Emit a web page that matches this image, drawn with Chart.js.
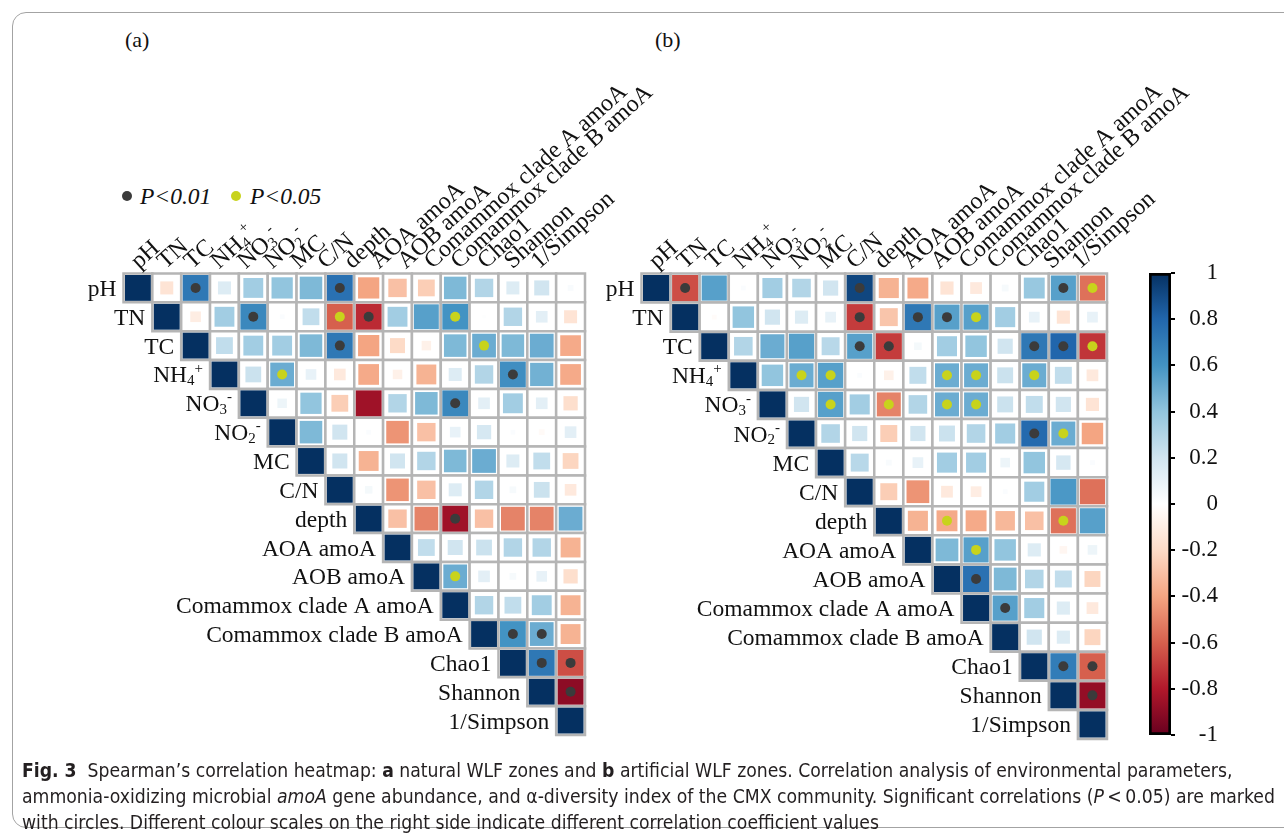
<!DOCTYPE html>
<html>
<head>
<meta charset="utf-8">
<script src="https://cdn.jsdelivr.net/npm/chart.js@4.4.0/dist/chart.umd.min.js"></script>
<style>
    body { margin: 0; background: #fff; width: 1284px; height: 833px; overflow: hidden; position: relative; font-family: "Liberation Serif", serif; color: #111; }
    canvas { position: absolute; left: 0; top: 0; }
    .frame { position: absolute; left: 12px; top: 12px; width: 1300px; height: 814px; border: 1px solid #a3a3a3; border-radius: 14px; }
    .panel { position: absolute; top: 27px; font-size: 22px; }
    .leg { position: absolute; top: 183px; font-size: 23.5px; font-style: italic; line-height: 26px; }
    .dot { position: absolute; width: 10px; height: 10px; border-radius: 50%; }
    .cap { position: absolute; left: 22px; white-space: nowrap; font-family: "Liberation Sans Narrow", "DejaVu Sans Condensed", "Open Sans", sans-serif; font-size: 20px; line-height: 26px; color: #231f20; transform-origin: 0 0; }
</style>
</head>
<body>
<div class="frame"></div>
<div class="panel" style="left:125px">(a)</div>
<div class="panel" style="left:655px">(b)</div>
<div class="dot" style="left:122px;top:191px;background:#3b3b3b"></div>
<div class="leg" style="left:140px">P&lt;0.01</div>
<div class="dot" style="left:231px;top:191px;background:#c8d31c"></div>
<div class="leg" style="left:250px">P&lt;0.05</div>

<canvas id="natural" width="1284" height="833"></canvas>
<canvas id="artificial" width="1284" height="833"></canvas>
<canvas id="cbar" width="1284" height="833"></canvas>

<div class="cap" id="cap1" style="top:757px"><b>Fig. 3</b>&nbsp; Spearman’s correlation heatmap: <b>a</b> natural WLF zones and <b>b</b> artificial WLF zones. Correlation analysis of environmental parameters,</div>
<div class="cap" id="cap2" style="top:783px">ammonia-oxidizing microbial <i>amoA</i> gene abundance, and α-diversity index of the CMX community. Significant correlations (<i>P</i>&thinsp;&lt;&thinsp;0.05) are marked</div>
<div class="cap" id="cap3" style="top:809px">with circles. Different colour scales on the right side indicate different correlation coefficient values</div>

<script>
const variables = ['pH', 'TN', 'TC', 'NH4+', 'NO3-', 'NO2-', 'MC', 'C/N', 'depth',
    'AOA amoA', 'AOB amoA', 'Comammox clade A amoA', 'Comammox clade B amoA',
    'Chao1', 'Shannon', '1/Simpson'];

// upper triangle, row i holds r for columns i+1 .. 15
const rNatural = [
    [-0.15, 0.72, 0.15, 0.35, 0.4, 0.45, 0.75, -0.4, -0.3, -0.25, 0.45, 0.3, 0.15, 0.2, 0.03],
    [-0.1, 0.35, 0.65, 0.02, 0.25, -0.6, -0.75, 0.35, 0.55, 0.6, 0.01, 0.3, 0.12, -0.15],
    [0.25, 0.35, 0.35, 0.45, 0.72, -0.4, -0.2, -0.08, 0.45, 0.5, 0.45, 0.5, -0.38],
    [0.22, 0.5, 0.1, -0.12, -0.38, -0.08, -0.35, 0.15, 0.3, 0.62, 0.48, -0.38],
    [0.08, 0.4, -0.25, -0.85, 0.3, 0.45, 0.65, 0.12, 0.35, 0.12, -0.18],
    [0.45, 0.2, 0.02, -0.45, -0.3, 0.1, 0.18, 0.02, -0.03, 0.12],
    [0.2, -0.35, 0.2, 0.3, 0.45, 0.5, 0.15, 0.25, -0.22],
    [0.05, -0.45, -0.3, 0.15, 0.3, 0.04, 0.22, -0.12],
    [-0.3, -0.5, -0.85, -0.3, -0.5, -0.5, 0.5],
    [0.25, 0.2, 0.22, 0.3, 0.3, -0.35],
    [0.5, 0.12, 0.04, 0.1, -0.18],
    [0.3, 0.25, 0.35, -0.35],
    [0.6, 0.5, -0.35],
    [0.72, -0.65],
    [-0.9],
];
// 2 = P<0.01, 1 = P<0.05
const pNatural = [
    [0, 2, 0, 0, 0, 0, 2, 0, 0, 0, 0, 0, 0, 0, 0],
    [0, 0, 2, 0, 0, 1, 2, 0, 0, 1, 0, 0, 0, 0],
    [0, 0, 0, 0, 2, 0, 0, 0, 0, 1, 0, 0, 0],
    [0, 1, 0, 0, 0, 0, 0, 0, 0, 2, 0, 0],
    [0, 0, 0, 0, 0, 0, 2, 0, 0, 0, 0],
    [0, 0, 0, 0, 0, 0, 0, 0, 0, 0],
    [0, 0, 0, 0, 0, 0, 0, 0, 0],
    [0, 0, 0, 0, 0, 0, 0, 0],
    [0, 0, 2, 0, 0, 0, 0],
    [0, 0, 0, 0, 0, 0],
    [1, 0, 0, 0, 0],
    [0, 0, 0, 0],
    [2, 2, 0],
    [2, 2],
    [2],
];

const rArtificial = [
    [-0.65, 0.55, 0.02, 0.35, 0.3, 0.2, 0.92, -0.35, -0.38, -0.15, -0.12, 0.04, 0.38, 0.55, -0.55],
    [-0.02, 0.4, 0.2, 0.15, 0.1, -0.7, -0.28, 0.72, 0.55, 0.55, 0.35, 0.1, -0.15, 0.1],
    [0.3, 0.5, 0.55, 0.28, 0.55, -0.7, 0.05, 0.35, 0.4, 0.2, 0.72, 0.8, -0.72],
    [0.4, 0.5, 0.55, 0.02, -0.08, 0.25, 0.5, 0.5, 0.22, 0.5, 0.25, -0.12],
    [0.2, 0.55, 0.35, -0.5, 0.3, 0.5, 0.5, 0.22, 0.25, 0.2, -0.15],
    [0.3, 0.2, -0.25, 0.2, 0.22, 0.3, 0.35, 0.78, 0.5, -0.4],
    [0.28, 0.03, 0.1, 0.35, 0.35, 0.08, 0.4, 0.18, 0.02],
    [-0.25, -0.45, -0.12, -0.1, 0.02, 0.35, 0.58, -0.55],
    [-0.35, -0.38, -0.38, -0.33, -0.3, -0.55, 0.55],
    [0.45, 0.55, 0.4, 0.15, -0.05, 0.08],
    [0.75, 0.45, 0.3, 0.25, -0.22],
    [0.55, 0.35, 0.15, -0.12],
    [0.2, 0.15, -0.22],
    [0.7, -0.6],
    [-0.88],
];
const pArtificial = [
    [2, 0, 0, 0, 0, 0, 2, 0, 0, 0, 0, 0, 0, 2, 1],
    [0, 0, 0, 0, 0, 2, 0, 2, 2, 1, 0, 0, 0, 0],
    [0, 0, 0, 0, 2, 2, 0, 0, 0, 0, 2, 2, 1],
    [0, 1, 1, 0, 0, 0, 1, 1, 0, 1, 0, 0],
    [0, 1, 0, 1, 0, 1, 1, 0, 0, 0, 0],
    [0, 0, 0, 0, 0, 0, 0, 2, 1, 0],
    [0, 0, 0, 0, 0, 0, 0, 0, 0],
    [0, 0, 0, 0, 0, 0, 0, 0],
    [0, 1, 0, 0, 0, 1, 0],
    [0, 1, 0, 0, 0, 0],
    [2, 0, 0, 0, 0],
    [2, 0, 0, 0],
    [0, 0, 0],
    [2, 2],
    [2],
];

const colorbarTicks = [1, 0.8, 0.6, 0.4, 0.2, 0, -0.2, -0.4, -0.6, -0.8, -1];
const palette = ['#67001F', '#B2182B', '#D6604D', '#F4A582', '#FDDBC7', '#FFFFFF',
    '#D1E5F0', '#92C5DE', '#4393C3', '#2166AC', '#053061'];

const SERIF = '"Liberation Serif", "Times New Roman", serif';

function hexRgb(h) {
    return [1, 3, 5].map(k => parseInt(h.substr(k, 2), 16));
}

function corrColor(v) {
    const t = (Math.max(-1, Math.min(1, v)) + 1) / 2 * (palette.length - 1);
    const k = Math.min(Math.floor(t), palette.length - 2);
    const f = t - k;
    const a = hexRgb(palette[k]), b = hexRgb(palette[k + 1]);
    const c = a.map((x, n) => Math.round(x + (b[n] - x) * f));
    return `rgb(${c[0]},${c[1]},${c[2]})`;
}

function cellPx(chart) {
    const x = chart.scales.x;
    return x.getPixelForValue(1) - x.getPixelForValue(0);
}

//split NH4+ / NO3- into base, subscript and superscript parts
function richLabel(name) {
    const m = name.match(/^(N[HO])(\d)([+-])$/);
    if (!m) return [[name, 0]];
    return [[m[1], 0], [m[2], -1], [m[3], 1]];
}

function drawRich(ctx, parts, x, y, align, size) {
    const big = `${size}px ${SERIF}`;
    const small = `${Math.round(size * 0.62)}px ${SERIF}`;
    let total = 0;
    const widths = parts.map(([t, lvl]) => {
        ctx.font = lvl ? small : big;
        const w = ctx.measureText(t).width;
        total += w;
        return w;
    });
    let cx = align === 'right' ? x - total : x;
    ctx.textAlign = 'left';
    ctx.textBaseline = 'alphabetic';
    parts.forEach(([t, lvl], n) => {
        ctx.font = lvl ? small : big;
        const dy = lvl < 0 ? size * 0.12 : (lvl > 0 ? -size * 0.42 : 0);
        ctx.fillText(t, cx, y + dy);
        cx += widths[n];
    });
}

const corrLabels = {
    id: 'corrLabels',
    afterDatasetsDraw(chart, args, opts) {
        const {ctx, scales: {x, y}} = chart;
        const cell = cellPx(chart);
        ctx.save();
        ctx.fillStyle = '#111';
        variables.forEach((name, i) => {
            const cy = y.getPixelForValue(i + 0.5);
            drawRich(ctx, richLabel(name), x.getPixelForValue(i) - 7, cy + 8, 'right', 23.5);
        });
        const top = y.getPixelForValue(0);
        variables.forEach((name, j) => {
            const ax = x.getPixelForValue(0.5) + opts.shift + j * cell * opts.pitch;
            ctx.save();
            ctx.translate(ax, top - 4);
            ctx.rotate(-42 * Math.PI / 180);
            drawRich(ctx, richLabel(name), 0, 0, 'left', 24);
            ctx.restore();
        });
        ctx.restore();
    }
};

function heatChart(id, rows, sig, padding, labels) {
    const cells = [], marks = [];
    variables.forEach((_, i) => {
        cells.push({x: i + 0.5, y: i + 0.5, v: 1});
        (rows[i] || []).forEach((v, k) => {
            const j = i + 1 + k;
            cells.push({x: j + 0.5, y: i + 0.5, v: v});
            if (sig[i][k]) marks.push({x: j + 0.5, y: i + 0.5, p: sig[i][k]});
        });
    });

    return new Chart(document.getElementById(id), {
        type: 'scatter',
        data: {
            datasets: [{
                data: cells,
                order: 3,
                clip: false,
                pointStyle: 'rect',
                pointRadius: c => cellPx(c.chart) / Math.SQRT2,
                backgroundColor: '#fff',
                borderColor: '#b5b5b5',
                borderWidth: 2.5,
            }, {
                data: cells,
                order: 2,
                clip: false,
                pointStyle: 'rect',
                pointRadius: c => {
                    const v = c.raw ? c.raw.v : 0;
                    const side = Math.min(1, 1.3 * Math.sqrt(Math.abs(v))) * (cellPx(c.chart) - 3);
                    return side / Math.SQRT2;
                },
                backgroundColor: c => corrColor(c.raw ? c.raw.v : 0),
                borderWidth: 0,
            }, {
                data: marks,
                order: 1,
                clip: false,
                pointStyle: 'circle',
                pointRadius: 5,
                backgroundColor: c => (c.raw && c.raw.p === 2) ? '#3b3b3b' : '#c8d31c',
                borderWidth: 0,
            }],
        },
        options: {
            responsive: false,
            animation: false,
            events: [],
            layout: {padding: padding},
            plugins: {
                legend: {display: false},
                tooltip: {enabled: false},
                corrLabels: labels,
            },
            scales: {
                x: {type: 'linear', min: 0, max: 16, display: false},
                y: {type: 'linear', min: 0, max: 16, reverse: true, display: false},
            },
        },
        plugins: [corrLabels],
    });
}

heatChart('natural', rNatural, pNatural,
    {left: 123.5, right: 1284 - 585, top: 273.5, bottom: 833 - 735},
    {shift: 1, pitch: 0.925});
heatChart('artificial', rArtificial, pArtificial,
    {left: 641.5, right: 1284 - 1107, top: 273.5, bottom: 833 - 739},
    {shift: 1, pitch: 0.969});

new Chart(document.getElementById('cbar'), {
    type: 'bar',
    data: {
        labels: ['r'],
        datasets: [{
            data: [[-1, 1]],
            backgroundColor: c => {
                const {chartArea, ctx} = c.chart;
                if (!chartArea) return '#fff';
                const g = ctx.createLinearGradient(0, chartArea.bottom, 0, chartArea.top);
                palette.forEach((col, k) => g.addColorStop(k / (palette.length - 1), col));
                return g;
            },
            borderColor: '#000',
            borderWidth: 3,
            borderSkipped: false,
            barPercentage: 1,
            categoryPercentage: 1,
        }],
    },
    options: {
        responsive: false,
        animation: false,
        events: [],
        layout: {padding: {left: 1149, right: 1284 - 1171 - 47, top: 273, bottom: 833 - 735}},
        plugins: {legend: {display: false}, tooltip: {enabled: false}},
        scales: {
            x: {display: false},
            y: {
                position: 'right',
                min: -1,
                max: 1,
                afterFit: s => { s.width = 47; },
                afterBuildTicks: s => { s.ticks = colorbarTicks.map(v => ({value: v})); },
                border: {display: false},
                grid: {display: true, drawOnChartArea: false, drawTicks: true, tickLength: 4, color: '#000', lineWidth: 2},
                ticks: {
                    font: {family: SERIF, size: 23},
                    color: '#111',
                    padding: 6,
                    crossAlign: 'far',
                    callback: v => String(Math.round(v * 10) / 10),
                },
            },
        },
    },
});

//squeeze the caption lines to the width of the printed ones
const targets = {cap1: 1210, cap2: 1253};
const c1 = document.getElementById('cap1');
const k = targets.cap1 / c1.scrollWidth;
c1.style.transform = `scaleX(${k})`;
const c2 = document.getElementById('cap2');
c2.style.transform = `scaleX(${targets.cap2 / c2.scrollWidth})`;
document.getElementById('cap3').style.transform = `scaleX(${k})`;
</script>
</body>
</html>
